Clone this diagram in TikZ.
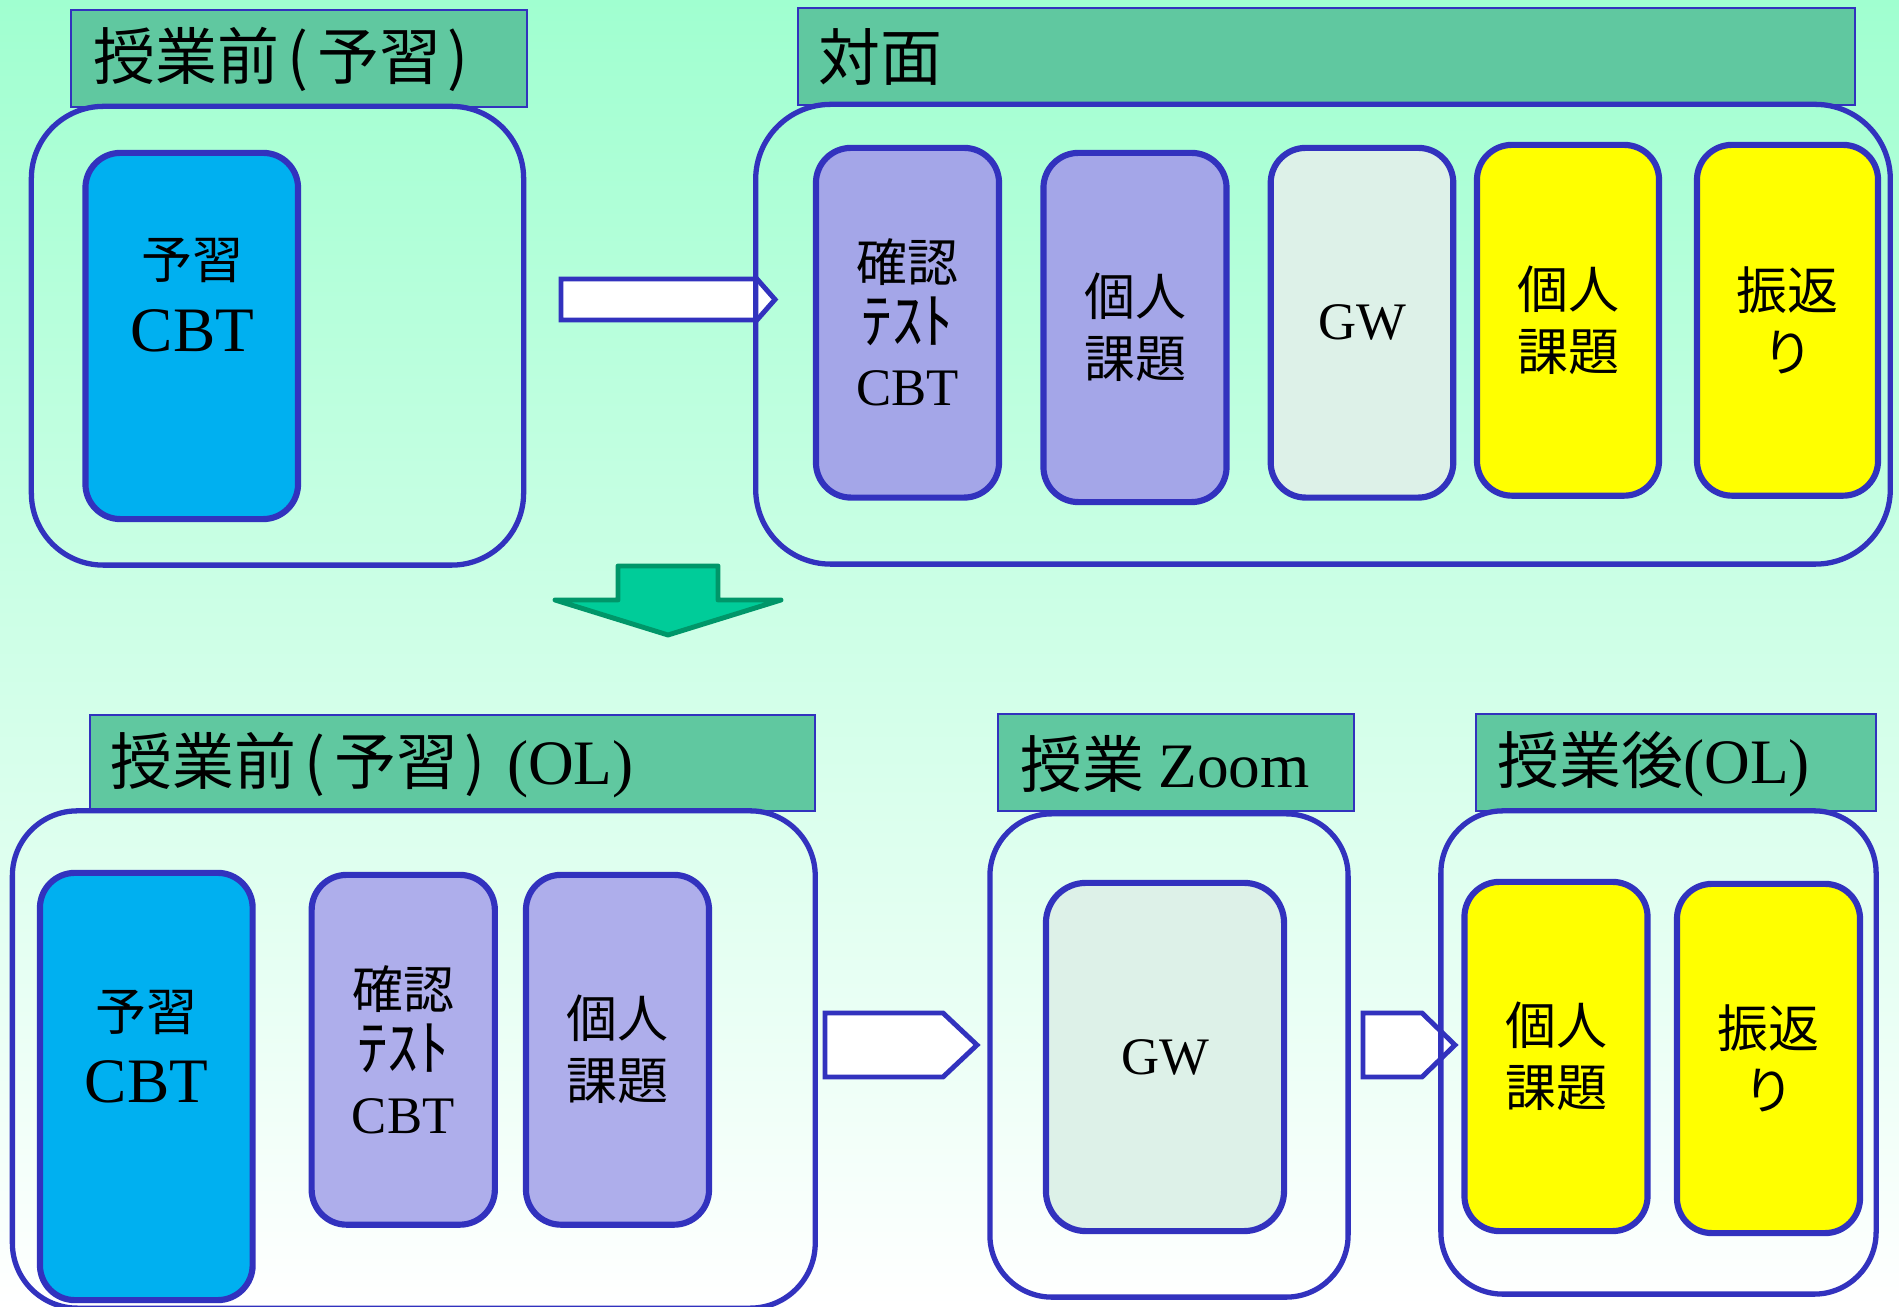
\documentclass[tikz,border=0pt]{standalone}
\usepackage{fontspec}
\setmainfont{Liberation Serif}
\newfontfamily\jp{Noto Sans CJK JP}
\definecolor{bgtop}{RGB}{160,255,208}
\definecolor{hdr}{RGB}{96,200,160}
\definecolor{bdr}{RGB}{50,50,190}
\definecolor{cyanbox}{RGB}{0,176,240}
\definecolor{lavtop}{RGB}{164,166,232}
\definecolor{lavbot}{RGB}{174,174,235}
\definecolor{gwfill}{RGB}{221,241,232}
\definecolor{yel}{RGB}{255,255,0}
\definecolor{grnfill}{RGB}{0,204,153}
\definecolor{grnline}{RGB}{0,150,105}
\newcommand{\jlp}{\kern0.13em(\kern0.15em}
\newcommand{\jrp}{\kern0.1em)}
\newcommand{\latin}{\rmfamily\fontsize{15}{17.64}\selectfont}
\newcommand{\hkana}{\fontsize{17.5}{17.64}\selectfont}
\tikzset{
  hdrbox/.style={draw=bdr, line width=0.5pt, fill=hdr, inner sep=0pt},
  hdrtext/.style={font=\jp\fontsize{17.6}{20}\selectfont, inner sep=0pt, anchor=west},
  outerbox/.style={draw=bdr, line width=1.5pt, inner sep=0pt},
  inbox/.style={draw=bdr, line width=1.75pt, rounded corners=0.35cm, inner sep=0pt,
                align=center, font=\jp\fontsize{14.5}{17.64}\selectfont},
  intext/.style={inner sep=0pt, font=\jp\fontsize{14.5}{17.64}\selectfont},
  bigcbt/.style={inner sep=0pt, font=\rmfamily\fontsize{18}{20}\selectfont},
  blockarrow/.style={draw=bdr, fill=white, line width=1.4pt},
  downarrow/.style={draw=grnline, fill=grnfill, line width=1.4pt, line join=round}
}
\begin{document}
\begin{tikzpicture}[x=0.01cm, y=-0.01cm]
\useasboundingbox (0,0) rectangle (1899,1307);
\clip (0,0) rectangle (1899,1307);
\shade[top color=bgtop, bottom color=white] (0,0) rectangle (1899,1307);

% headers
\node[hdrbox, minimum width=4.56cm, minimum height=0.97cm] (h1) at (299,58.5) {};
\node[hdrbox, minimum width=10.57cm, minimum height=0.97cm] (h2) at (1326.5,56.5) {};
\node[hdrbox, minimum width=7.25cm, minimum height=0.96cm] (h3) at (452.5,763) {};
\node[hdrbox, minimum width=3.56cm, minimum height=0.97cm] (h4) at (1176,762.5) {};
\node[hdrbox, minimum width=4.00cm, minimum height=0.97cm] (h5) at (1676,762.5) {};

\node[hdrtext] (h1t) at (93,59) {授業前\jlp 予習\jrp};
\node[hdrtext] (h2t) at (818,57) {対面};
\node[hdrtext] (h3t) at (110,765) {授業前\jlp 予習\jrp\hspace{0.35em}{\rmfamily\fontsize{18}{20}\selectfont (OL)}};
\node[hdrtext] (h4t) at (1020,764) {授業 {\rmfamily\fontsize{18}{20}\selectfont Zoom}};
\node[hdrtext] (h5t) at (1497,764) {授業後{\rmfamily\fontsize{18}{20}\selectfont (OL)}};

% hollow arrows
\draw[blockarrow] (561,279) -- (757,279) -- (775,299.5) -- (757,320) -- (561,320) -- cycle;
\draw[blockarrow] (825,1013) -- (943,1013) -- (977,1045) -- (943,1077) -- (825,1077) -- cycle;
\draw[blockarrow] (1363,1013) -- (1422,1013) -- (1455,1045) -- (1422,1077) -- (1363,1077) -- cycle;

% outer boxes
\node[outerbox, rounded corners=0.72cm, minimum width=4.92cm, minimum height=4.585cm] (o1) at (277.5,335.75) {};
\node[outerbox, rounded corners=0.75cm, minimum width=11.34cm, minimum height=4.595cm] (o2) at (1323,334.25) {};
\node[outerbox, rounded corners=0.65cm, minimum width=8.024cm, minimum height=4.97cm] (o3) at (413.8,1059.5) {};
\node[outerbox, rounded corners=0.62cm, minimum width=3.58cm, minimum height=4.83cm] (o4) at (1169,1055.5) {};
\node[outerbox, rounded corners=0.62cm, minimum width=4.35cm, minimum height=4.83cm] (o5) at (1658.5,1052.5) {};

% top inner boxes
\node[inbox, fill=cyanbox, minimum width=2.125cm, minimum height=3.66cm] (b1) at (191.75,336) {};
\node[intext] (b1a) at (192.5,260) {予習};
\node[bigcbt] (b1b) at (192.5,331) {CBT};
\node[inbox, fill=lavtop, minimum width=1.83cm, minimum height=3.495cm] (t1) at (907.5,322.75) {確認\\{\hkana ﾃｽﾄ}\\{\latin CBT}};
\node[inbox, fill=lavtop, minimum width=1.83cm, minimum height=3.49cm] (t2) at (1135,327.5) {個人\\課題};
\node[inbox, fill=gwfill, minimum width=1.825cm, minimum height=3.495cm] (t3) at (1362,322.75) {{\latin GW}};
\node[inbox, fill=yel, minimum width=1.82cm, minimum height=3.506cm] (t4) at (1568,320.3) {個人\\課題};
\node[inbox, fill=yel, minimum width=1.81cm, minimum height=3.506cm] (t5) at (1787.5,320.3) {振返\\り};

% bottom inner boxes
\node[inbox, fill=cyanbox, minimum width=2.126cm, minimum height=4.27cm] (b3) at (146.3,1086.5) {};
\node[intext] (b3a) at (146.4,1012) {予習};
\node[bigcbt] (b3b) at (146.4,1082) {CBT};
\node[inbox, fill=lavbot, minimum width=1.831cm, minimum height=3.496cm] (b4) at (403.25,1049.8) {確認\\{\hkana ﾃｽﾄ}\\{\latin CBT}};
\node[inbox, fill=lavbot, minimum width=1.83cm, minimum height=3.496cm] (b5) at (617.5,1049.8) {個人\\課題};
\node[inbox, fill=gwfill, rounded corners=0.4cm, minimum width=2.38cm, minimum height=3.48cm] (g2) at (1165,1057) {{\latin GW}};
\node[inbox, fill=yel, minimum width=1.83cm, minimum height=3.49cm] (y1) at (1556,1056.5) {個人\\課題};
\node[inbox, fill=yel, minimum width=1.83cm, minimum height=3.49cm] (y2) at (1768.5,1058.5) {振返\\り};

% green down arrow
\draw[downarrow] (618,566) -- (718,566) -- (718,600) -- (781,600) -- (668,635) -- (555,600) -- (618,600) -- cycle;
\end{tikzpicture}
\end{document}
